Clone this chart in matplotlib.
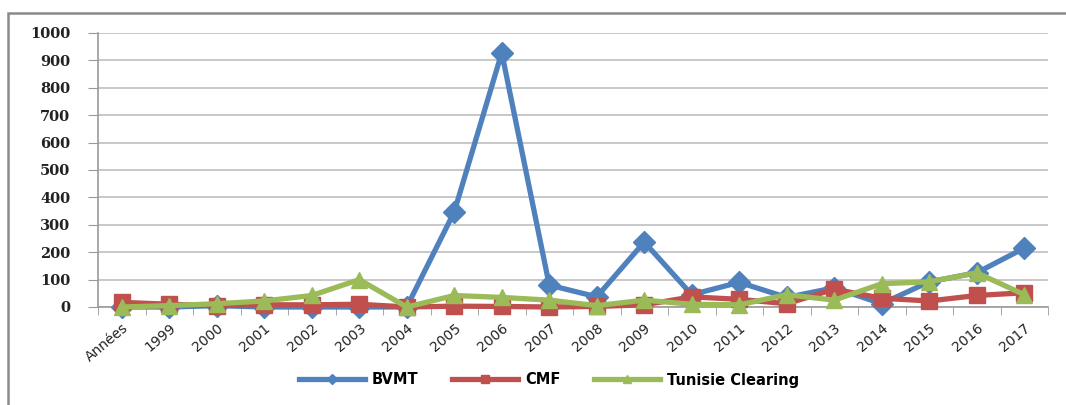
import numpy as np
import matplotlib.pyplot as plt
from matplotlib.patches import Rectangle
from matplotlib.ticker import FixedLocator

categories = ['Années', '1999', '2000', '2001', '2002', '2003', '2004', '2005', '2006', '2007',
              '2008', '2009', '2010', '2011', '2012', '2013', '2014', '2015', '2016', '2017']
bvmt = [0, 0, 5, 0, 0, 0, 0, 347, 928, 80, 37, 237, 45, 90, 35, 70, 12, 92, 125, 215]
cmf = [17, 10, 5, 8, 8, 10, 0, 3, 2, 0, 2, 8, 37, 28, 12, 65, 32, 22, 42, 52]
clearing = [0, 5, 12, 22, 42, 100, 0, 42, 35, 25, 5, 25, 10, 8, 45, 25, 85, 92, 125, 45]

blue = '#4F81BD'
red = '#C0504D'
green = '#9BBB59'

fig = plt.figure(figsize=(10.66, 4.05), dpi=100)
fig.patch.set_facecolor('white')

# outer chart border (runs off the right and bottom edge)
fig.patches.append(Rectangle((8/1066, -0.2), 1.2, 1.2 - 13/405, transform=fig.transFigure,
                             fill=False, edgecolor='#8a8a8a', linewidth=1.8))

ax = fig.add_axes([98/1066, 1-307/405, 950/1066, 274/405])
x = np.arange(len(categories))

ax.plot(x, bvmt, color=blue, lw=3.8, marker='D', ms=11, mec=blue, label='BVMT', clip_on=False, zorder=3)
ax.plot(x, cmf, color=red, lw=3.8, marker='s', ms=12, mec=red, label='CMF', clip_on=False, zorder=4)
ax.plot(x, clearing, color=green, lw=3.8, marker='^', ms=12, mec=green, label='Tunisie Clearing',
        clip_on=False, zorder=5)

ax.set_xlim(-0.5, len(categories) - 0.5)
ax.set_ylim(0, 1000)
ax.set_yticks(np.arange(0, 1001, 100))
ax.grid(axis='y', color='#c4c4c4', lw=1.3)
ax.set_axisbelow(True)

for s in ['top', 'right']:
    ax.spines[s].set_visible(False)
ax.spines['left'].set_color('#9a9a9a')
ax.spines['bottom'].set_color('#9a9a9a')
ax.spines['left'].set_linewidth(1.2)
ax.spines['bottom'].set_linewidth(1.2)

ax.set_xticks(x)
ax.set_xticklabels(categories, rotation=40, ha='right', rotation_mode='anchor',
                   fontsize=10, color='#222222')
ax.xaxis.set_minor_locator(FixedLocator(np.arange(-0.5, len(categories), 1)))
ax.tick_params(axis='x', which='major', length=0, pad=10)
ax.tick_params(axis='x', which='minor', length=6, color='#9a9a9a', direction='out')
ax.tick_params(axis='y', length=7, color='#9a9a9a', pad=13)
for lab in ax.get_yticklabels():
    lab.set_fontfamily('DejaVu Serif')
    lab.set_fontweight('bold')
    lab.set_fontsize(10.5)
    lab.set_color('#222222')

fig.legend(loc='center', bbox_to_anchor=(0.515, 1-380/405), ncol=3, frameon=False,
           handlelength=4.5, markerscale=0.45, columnspacing=2.3, handletextpad=0.5,
           prop={'size': 10.5, 'weight': 'semibold'})

fig.savefig('out.png', dpi=100)
